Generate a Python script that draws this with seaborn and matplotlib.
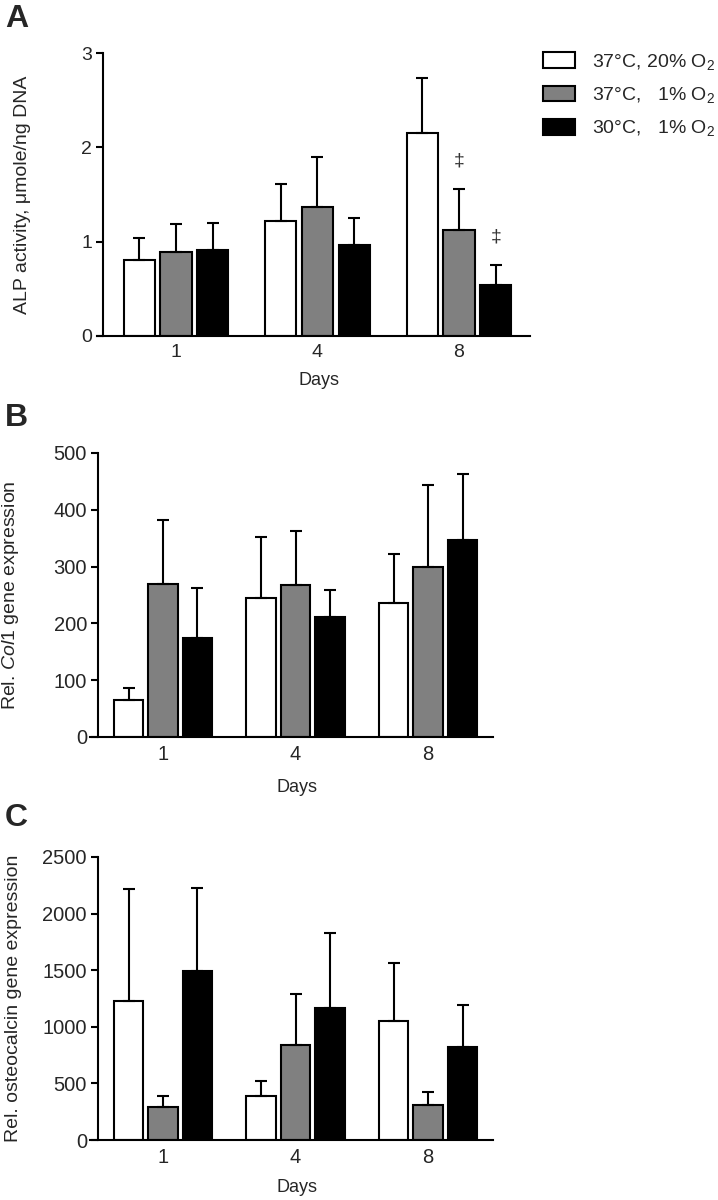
import matplotlib
matplotlib.use("Agg")
import matplotlib.pyplot as plt
from matplotlib.patches import Patch
import numpy as np
import pandas as pd
import seaborn as sns

# ---------------- data ----------------
days = ["1", "4", "8"]
conditions = ["37°C, 20% O$_2$", "37°C,   1% O$_2$", "30°C,   1% O$_2$"]
colors = ["#ffffff", "#808080", "#000000"]

# Panel A: ALP activity (mean, upper SD)
alp_white = [0.81, 1.22, 2.15]
alp_gray = [0.89, 1.37, 1.12]
alp_black = [0.91, 0.96, 0.54]
alp_white_err = [0.23, 0.39, 0.58]
alp_gray_err = [0.30, 0.53, 0.44]
alp_black_err = [0.29, 0.29, 0.21]
alp_daggers = [("8", 1), ("8", 2)]  # (day, condition index)

# Panel B: Col1
col_white = [65, 245, 236]
col_gray = [269, 268, 300]
col_black = [175, 211, 346]
col_white_err = [22, 107, 86]
col_gray_err = [113, 95, 144]
col_black_err = [87, 48, 117]

# Panel C: osteocalcin
oc_white = [1227, 391, 1050]
oc_gray = [294, 838, 309]
oc_black = [1491, 1168, 823]
oc_white_err = [988, 132, 510]
oc_gray_err = [97, 448, 117]
oc_black_err = [739, 662, 368]

# ---------------- style ----------------
sns.set_style("ticks")
plt.rcParams["font.family"] = ["Liberation Sans", "DejaVu Sans"]
plt.rcParams["mathtext.fontset"] = "custom"
plt.rcParams["mathtext.rm"] = "Liberation Sans"
plt.rcParams["mathtext.it"] = "Liberation Sans:italic"
plt.rcParams["mathtext.bf"] = "Liberation Sans:bold"

fig = plt.figure(figsize=(7.18, 12), dpi=100)
W, H = 718, 1200


def px_axes(left, top, right, bottom):
    return fig.add_axes([left / W, 1 - bottom / H, (right - left) / W, (bottom - top) / H])


def panel(ax, means, errs, ylim, yticks, ylabel, xlim, spine_frac, ylab_x, xlab_y,
          ticksize=14, daggers=()):
    rows = []
    for ci, cond in enumerate(conditions):
        for di, d in enumerate(days):
            rows.append({"day": d, "cond": cond, "value": means[ci][di]})
    df = pd.DataFrame(rows)
    sns.barplot(data=df, x="day", y="value", hue="cond", order=days, hue_order=conditions,
                palette=colors, saturation=1, edgecolor="black", linewidth=1.5,
                width=0.78, gap=0.15, errorbar=None, legend=False, ax=ax)
    bar_containers = list(ax.containers)
    for ci, cont in enumerate(bar_containers):
        xs = [b.get_x() + b.get_width() / 2 for b in cont]
        ys = [b.get_height() for b in cont]
        ax.errorbar(xs, ys, yerr=[np.zeros(len(xs)), errs[ci]], fmt="none", ecolor="black",
                    elinewidth=1.5, capsize=4.3, capthick=1.5, zorder=4)
        for (d, idx) in daggers:
            if idx == ci:
                di = days.index(d)
                ax.annotate("‡", xy=(xs[di], ys[di] + errs[ci][di]), xytext=(0, 20),
                            textcoords="offset points", ha="center", va="center",
                            fontsize=14, color="#333333")
    ax.set_ylim(*ylim)
    ax.set_xlim(*xlim)
    ax.set_yticks(yticks)
    ax.set_yticklabels([str(t) for t in yticks])
    sns.despine(ax=ax)
    ax.spines["left"].set_position(("axes", spine_frac))
    for s in ("left", "bottom"):
        ax.spines[s].set_linewidth(1.5)
        ax.spines[s].set_color("black")
    ax.tick_params(axis="y", length=5, width=1.5, labelsize=ticksize, pad=3, color="black")
    ax.tick_params(axis="x", length=0, labelsize=ticksize, pad=6)
    ax.set_ylabel(ylabel, fontsize=14)
    ax.set_xlabel("Days", fontsize=13)
    ax.yaxis.set_label_coords(ylab_x, 0.5)
    ax.xaxis.set_label_coords(0.513, xlab_y)


axA = px_axes(97, 53, 530, 336)
panel(axA,
      [alp_white, alp_gray, alp_black],
      [alp_white_err, alp_gray_err, alp_black_err],
      (0, 3), [0, 1, 2, 3], "ALP activity, μmole/ng DNA",
      (-0.558, 2.502), 6 / 433, -0.152, -0.127, ticksize=14, daggers=alp_daggers)

axB = px_axes(90, 453, 493, 737)
panel(axB,
      [col_white, col_gray, col_black],
      [col_white_err, col_gray_err, col_black_err],
      (0, 500), [0, 100, 200, 300, 400, 500], "Rel. $\\mathit{Col1}$ gene expression",
      (-0.551, 2.49), 8 / 403, -0.171, -0.148, ticksize=14.5)

axC = px_axes(90, 857, 493, 1140)
panel(axC,
      [oc_white, oc_gray, oc_black],
      [oc_white_err, oc_gray_err, oc_black_err],
      (0, 2500), [0, 500, 1000, 1500, 2000, 2500], "Rel. osteocalcin gene expression",
      (-0.551, 2.49), 8 / 403, -0.169, -0.138, ticksize=14.5)

# legend
handles = [Patch(facecolor=c, edgecolor="black", linewidth=1.5) for c in colors]
fig.legend(handles, conditions, loc="upper left", bbox_to_anchor=(543 / W, 1 - 52 / H),
           frameon=False, fontsize=14, handlelength=1.65, handleheight=0.88,
           handletextpad=0.88, labelspacing=0.68, borderpad=0, borderaxespad=0)

# panel letters
for letter, top in (("A", 4), ("B", 403), ("C", 803)):
    fig.text(5 / W, 1 - top / H, letter, fontsize=23, fontweight="bold", ha="left", va="top")

fig.savefig("out.png", dpi=100)
